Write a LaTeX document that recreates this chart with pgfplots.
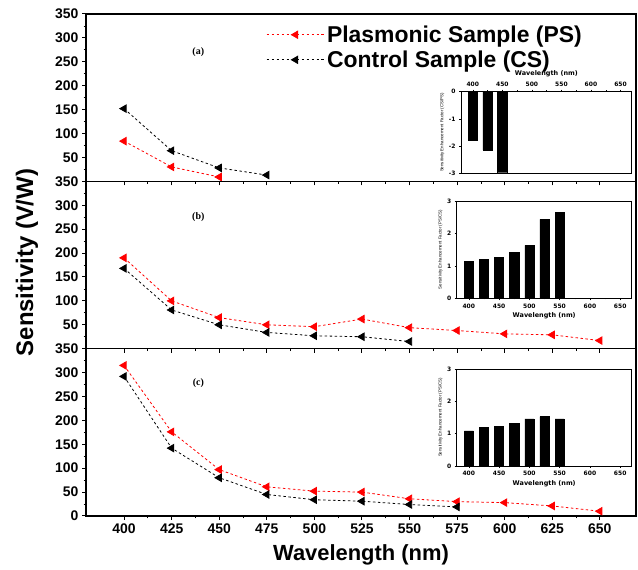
\documentclass[border=0pt]{standalone}
\usepackage{fontspec}
\setmainfont{Liberation Sans}
\newfontfamily\seriffont{Liberation Serif}
\newfontfamily\widefont{DejaVu Sans}
\usepackage{pgfplots}
\pgfplotsset{compat=1.18}
\pgfplotsset{
 mainax/.style={scale only axis, width=550bp, height=167.3bp, xmin=380, xmax=669, ymin=0, ymax=350,
   xtick={400,425,...,650}, minor x tick num=1, ytick={0,50,...,350}, minor y tick num=1,
   tick align=outside, xtick pos=left, ytick pos=left,
   axis line style={line width=1.2pt}, major tick style={line width=1pt, black}, minor tick style={line width=0.8pt, black},
   major tick length=4bp, minor tick length=2.5bp,
   ticklabel style={font=\fontsize{14}{14}\selectfont\bfseries},
   /pgf/number format/assume math mode=true, clip=false},
 ps/.style={red, line width=0.8pt, dash pattern=on 2.5pt off 2.5pt, mark=triangle*, mark size=4.3pt, mark options={rotate=90, solid, fill=red}},
 cs/.style={black, line width=0.8pt, dash pattern=on 2.5pt off 2.5pt, mark=triangle*, mark size=4.3pt, mark options={rotate=90, solid, fill=black}},
 inset/.style={scale only axis, xmin=380, xmax=669, xtick={400,450,...,650}, minor x tick num=1,
   tick align=outside, xtick pos=left, ytick pos=left, axis line style={line width=0.5pt},
   major tick length=2bp, minor tick length=1.2bp, tick style={black, line width=0.4pt},
   ticklabel style={font=\fontsize{6}{6}\selectfont\widefont\bfseries},
   /pgf/number format/assume math mode=true,
   xlabel={Wavelength (nm)}, xlabel style={font=\fontsize{6.5}{7}\selectfont\widefont\bfseries, inner sep=1pt},
   ylabel style={font=\fontsize{4.4}{5}\selectfont, inner sep=1pt}},
 insetbar/.style={ybar, fill=black, draw=black, bar width=15},
}
\begin{document}
\begin{tikzpicture}[x=1bp,y=1bp]
\path[use as bounding box] (0,0) rectangle (638,570);
% panel (a)
\begin{axis}[mainax, at={(86bp,388.7bp)}, anchor=south west, xticklabels={}, yticklabels={,50,100,150,200,250,300,350},
  legend style={at={(0.322,0.955)}, anchor=north west, draw=none, fill=none, font=\fontsize{23}{26}\selectfont\bfseries, row sep=3pt},
  legend cell align=left,
  legend image code/.code={\draw[mark repeat=2,mark phase=2] plot coordinates {(0bp,0bp)(29bp,0bp)(58bp,0bp)};}]
\addplot[ps] coordinates {(400,84)(425,30)(450,9)};
\addlegendentry{Plasmonic Sample (PS)}
\addplot[cs] coordinates {(400,152)(425,64)(450,28)(475,13)};
\addlegendentry{Control Sample (CS)}
\node[font={\fontsize{10}{10}\selectfont\seriffont\bfseries}] at (axis cs:439,270) {(a)};
\end{axis}
% panel (b)
\begin{axis}[mainax, at={(86bp,221.3bp)}, anchor=south west, xticklabels={}, yticklabels={,50,100,150,200,250,300,350}]
\addplot[ps] coordinates {(400,190)(425,100)(450,65)(475,50)(500,46)(525,62)(550,44)(575,38)(600,31)(625,29)(650,17)};
\addplot[cs] coordinates {(400,168)(425,81)(450,50)(475,34)(500,27)(525,25)(550,15)};
\node[font={\fontsize{10}{10}\selectfont\seriffont\bfseries}] at (axis cs:439,275) {(b)};
\end{axis}
% panel (c)
\begin{axis}[mainax, at={(86bp,54bp)}, anchor=south west]
\addplot[ps] coordinates {(400,315)(425,176)(450,97)(475,61)(500,52)(525,50)(550,36)(575,30)(600,28)(625,21)(650,10)};
\addplot[cs] coordinates {(400,292)(425,142)(450,80)(475,45)(500,34)(525,31)(550,24)(575,19)};
\node[font={\fontsize{10}{10}\selectfont\seriffont\bfseries}] at (axis cs:439,278) {(c)};
\end{axis}
% inset (a)
\begin{axis}[inset, at={(461bp,396.7bp)}, anchor=south west, width=170.7bp, height=81.6bp,
  ymin=-3, ymax=0, ytick={-3,-2,-1,0}, xtick pos=right, xticklabel pos=right,
  ylabel={Sensitivity Enhancement Factor (CS/PS)}]
\addplot[insetbar, bar width=16] coordinates {(400,-1.79)(425,-2.14)(450,-2.98)};
\end{axis}
% inset (b)
\begin{axis}[inset, at={(456.7bp,271.7bp)}, anchor=south west, width=175bp, height=97.3bp,
  ymin=0, ymax=3, ytick={0,1,2,3},
  ylabel={Sensitivity Enhancement Factor (PS/CS)}]
\addplot[insetbar] coordinates {(400,1.13)(425,1.21)(450,1.26)(475,1.42)(500,1.63)(525,2.43)(550,2.65)};
\end{axis}
% inset (c)
\begin{axis}[inset, at={(456.7bp,104bp)}, anchor=south west, width=175bp, height=97bp,
  ymin=0, ymax=3, ytick={0,1,2,3},
  ylabel={Sensitivity Enhancement Factor (PS/CS)}]
\addplot[insetbar] coordinates {(400,1.09)(425,1.2)(450,1.22)(475,1.32)(500,1.46)(525,1.53)(550,1.46)};
\end{axis}
\node[rotate=90, font=\fontsize{24}{24}\selectfont\bfseries] at (27bp,307.5bp) {Sensitivity (V/W)};
\node[anchor=base, font=\fontsize{22}{22}\selectfont\bfseries] at (361bp,9.5bp) {Wavelength (nm)};
\end{tikzpicture}
\end{document}
